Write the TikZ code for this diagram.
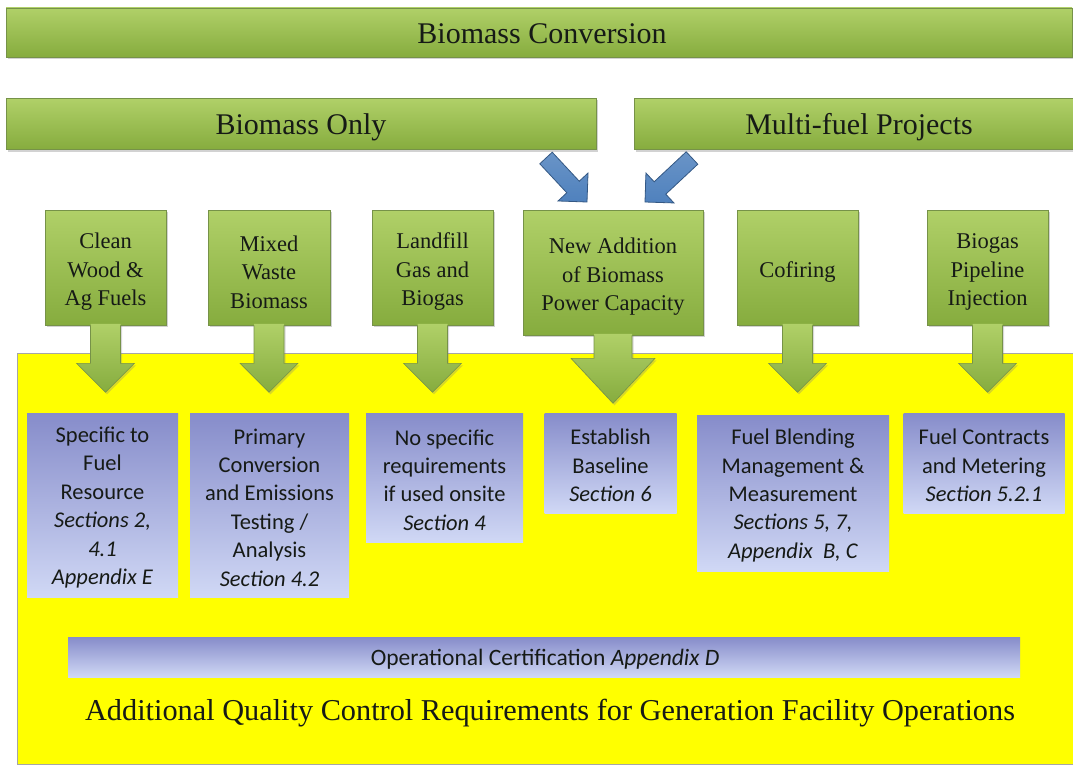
\documentclass[tikz,border=0pt]{standalone}
\usepackage{fontspec}
\setmainfont{Liberation Serif}
\newfontfamily\calfont{Carlito}
\usetikzlibrary{calc,shadows}
\definecolor{ggTop}{RGB}{176,208,104}
\definecolor{ggBot}{RGB}{134,172,62}
\definecolor{ggEdge}{RGB}{118,146,72}
\definecolor{bbTop}{RGB}{134,140,202}
\definecolor{bbBot}{RGB}{208,216,245}
\definecolor{arrBlue}{RGB}{79,129,189}
\definecolor{arrEdge}{RGB}{52,88,132}
\definecolor{yel}{RGB}{255,255,0}
\definecolor{txt}{RGB}{22,26,22}
\tikzset{
  greenbar/.style={draw=ggEdge, line width=0.6pt, top color=ggTop, bottom color=ggBot,
    drop shadow={opacity=0.35,shadow xshift=1.5pt,shadow yshift=-2pt},
    inner sep=0pt},
  bartext/.style={inner sep=0pt, text=txt, font=\fontsize{30}{34}\selectfont},
  gtext/.style={inner sep=0pt, align=center, text=txt, font=\fontsize{22.5}{28.5}\selectfont},
  garrowfill/.style={top color=ggTop, bottom color=ggBot,
    drop shadow={opacity=0.3,shadow xshift=1.5pt,shadow yshift=-2pt}},
  garrowedge/.style={draw=ggEdge, line width=0.6pt},
  bluebox/.style={top color=bbTop, bottom color=bbBot, draw=none, inner sep=0pt},
  btext/.style={inner sep=0pt, align=center, text=txt, font=\calfont\fontsize{22.5}{28.4}\selectfont},
  barrow/.style={top color=arrBlue!85!white, bottom color=arrBlue, draw=arrEdge, line width=0.8pt, line join=miter},
  yelarea/.style={fill=yel, draw=gray!70, line width=1pt},
}
% green box: name, x, y, w, h, text
\newcommand{\gbox}[6]{%
  \node[greenbar, minimum width=#4pt, minimum height=#5pt] (#1) at (#2,#3) {};
  \node[gtext] (#1t) at ($(#1.center)+(0,4.5)$) {#6};
}
% blue box: name, x, y, w, h, text
\newcommand{\bbox}[6]{%
  \node[bluebox, minimum width=#4pt, minimum height=#5pt] (#1) at (#2,#3) {};
  \node[btext] (#1t) at ($(#1.center)+(0,2.5)$) {#6};
}
\newcommand{\gdownarrow}[5]{%
  \path[garrowfill] ($(#1.south)+(-#2,-1.5)$) -- ($(#1.south)+(-#2,#4)$) -- ($(#1.south)+(-#3,#4)$)
    -- ($(#1.south)+(0,#4+#5)$) -- ($(#1.south)+(#3,#4)$) -- ($(#1.south)+(#2,#4)$)
    -- ($(#1.south)+(#2,-1.5)$) -- cycle;
  \draw[garrowedge] ($(#1.south)+(-#2,0)$) -- ($(#1.south)+(-#2,#4)$) -- ($(#1.south)+(-#3,#4)$)
    -- ($(#1.south)+(0,#4+#5)$) -- ($(#1.south)+(#3,#4)$) -- ($(#1.south)+(#2,#4)$)
    -- ($(#1.south)+(#2,0)$);
}
\newcommand{\blockarrow}[2]{%
  \path[barrow]
    ($(#1)!8.5pt!90:(#2)$) -- ($(#1)!8.5pt!-90:(#2)$)
    -- ($($(#2)!20.5pt!(#1)$)!8.5pt!90:(#1)$)
    -- ($($(#2)!20.5pt!(#1)$)!20.5pt!90:(#1)$)
    -- (#2)
    -- ($($(#2)!20.5pt!(#1)$)!20.5pt!-90:(#1)$)
    -- ($($(#2)!20.5pt!(#1)$)!8.5pt!-90:(#1)$)
    -- cycle;
}
\begin{document}
\begin{tikzpicture}[x=1pt,y=-1pt]
\useasboundingbox[fill=white] (0,0) rectangle (1073,765);
% yellow area
\path[yelarea] (17,353) rectangle (1090,764);
% bars
\node[greenbar, minimum width=1066pt, minimum height=49pt] (conv) at (539,32.5) {};
\node[bartext] (convt) at ($(conv.center)+(3,1)$) {Biomass Conversion};
\node[greenbar, minimum width=590pt, minimum height=51pt] (only) at (301,124) {};
\node[bartext] (onlyt) at ($(only.center)+(0,3)$) {Biomass Only};
\node[greenbar, minimum width=446pt, minimum height=51pt] (multi) at (857,124) {};
\node[bartext] (multit) at ($(multi.center)+(2,3)$) {Multi-fuel Projects};
% green boxes
\gbox{g1}{105.5}{267.5}{121}{115}{Clean\\Wood \&\\Ag Fuels}
\gbox{g2}{269}{267.5}{122}{115}{Mixed\\Waste\\Biomass}
\gbox{g3}{432.5}{267.5}{121}{115}{Landfill\\Gas and\\Biogas}
\gbox{g4}{613}{272.5}{180}{125}{New Addition\\of Biomass\\Power Capacity}
\gbox{g5}{797.5}{267.5}{121}{115}{Cofiring}
\gbox{g6}{987.5}{267.5}{121}{115}{Biogas\\Pipeline\\Injection}
\gdownarrow{g1}{15}{29}{38}{29}
\gdownarrow{g2}{15}{29}{38}{29}
\gdownarrow{g3}{15}{29}{38}{29}
\gdownarrow{g4}{19}{42}{23}{45}
\gdownarrow{g5}{15}{29}{38}{29}
\gdownarrow{g6}{15}{29}{38}{29}
% blue block arrows
\coordinate (lt) at (546,158);
\coordinate (lh) at (587,202);
\coordinate (rt) at (692,158);
\coordinate (rh) at (645,202);
\blockarrow{lt}{lh}
\blockarrow{rt}{rh}
% blue boxes
\bbox{b1}{102.5}{505}{151}{184}{Specific to\\Fuel\\Resource\\\textit{Sections 2,}\\\textit{4.1}\\\textit{Appendix E}}
\bbox{b2}{269.5}{505}{159}{184}{Primary\\Conversion\\and Emissions\\Testing /\\Analysis\\\textit{Section 4.2}}
\bbox{b3}{444.5}{477.5}{157}{129}{No specific\\requirements\\if used onsite\\\textit{Section 4}}
\bbox{b4}{610.5}{463}{132}{100}{Establish\\Baseline\\\textit{Section 6}}
\bbox{b5}{793}{493}{192}{156}{Fuel Blending\\Management \&\\Measurement\\\textit{Sections 5, 7,}\\\textit{Appendix\ \ B, C}}
\bbox{b6}{984}{463}{161}{100}{Fuel Contracts\\and Metering\\\textit{Section 5.2.1}}
% operational certification
\node[bluebox, minimum width=952pt, minimum height=40pt] (op) at (544,657) {};
\node[btext, font=\calfont\fontsize{23.5}{26}\selectfont] (opt) at ($(op.center)+(1,2)$) {Operational Certification \textit{Appendix D}};
\node[inner sep=0pt, text=txt, font=\fontsize{30.3}{34}\selectfont] (aq) at (550,713) {Additional Quality Control Requirements for Generation Facility Operations};
\end{tikzpicture}
\end{document}
